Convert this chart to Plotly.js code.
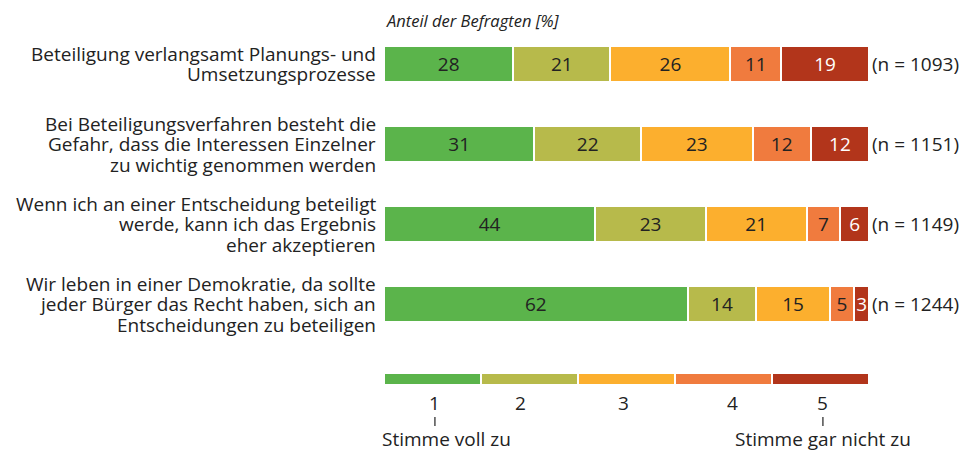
<!DOCTYPE html>
<html><head><meta charset="utf-8">
<script src="https://cdn.plot.ly/plotly-3.0.1.min.js"></script>
<style>body{margin:0;background:#fff}#c{width:964px;height:453px}</style>
</head><body><div id="c"></div>
<script>
const categories = [
  "Beteiligung verlangsamt Planungs- und<br>Umsetzungsprozesse",
  "Bei Beteiligungsverfahren besteht die<br>Gefahr, dass die Interessen Einzelner<br>zu wichtig genommen werden",
  "Wenn ich an einer Entscheidung beteiligt<br>werde, kann ich das Ergebnis<br>eher akzeptieren",
  "Wir leben in einer Demokratie, da sollte<br>jeder Bürger das Recht haben, sich an<br>Entscheidungen zu beteiligen"
];
const sampleSizes = [1093, 1151, 1149, 1244];
const s1 = [28, 31, 44, 62];
const s2 = [21, 22, 23, 14];
const s3 = [26, 23, 21, 15];
const s4 = [11, 12, 7, 5];
const s5 = [19, 12, 6, 3];
const scaleLabels = ["1", "2", "3", "4", "5"];
const scaleEnds = ["Stimme voll zu", "Stimme gar nicht zu"];
const axisTitle = "Anteil der Befragten [%]";

// layout constants (positions in scale-axis units 0..100)
const scaleLabelPos = [10.5, 28.2, 49.3, 71.8, 90.5];

const series = [s1, s2, s3, s4, s5];
const colors = ["#5bb44b", "#b7ba4b", "#fcaf2e", "#f07b3e", "#b2351b"];
const textColors = ["#222", "#222", "#222", "#222", "#fff"];
const FONT = "Open Sans, sans-serif";
const FS = 19;
const H = 453;

const traces = series.map((vals, i) => ({
  type: "bar", orientation: "h",
  x: vals, y: categories,
  marker: {color: colors[i], line: {color: "#fff", width: 2}},
  text: vals.map(String), textposition: "inside", insidetextanchor: "middle",
  textfont: {family: FONT, size: FS, color: textColors[i]},
  constraintext: "none",
  hoverinfo: "skip", xaxis: "x", yaxis: "y", showlegend: false
}));
// scale bar (legend)
scaleLabels.forEach((lab, i) => {
  traces.push({
    type: "bar", orientation: "h", x: [1], y: ["scale"],
    marker: {color: colors[i], line: {color: "#fff", width: 2}},
    hoverinfo: "skip", xaxis: "x2", yaxis: "y2", showlegend: false
  });
});

const annotations = [];
annotations.push({text: "<i>" + axisTitle + "</i>", xref: "paper", yref: "paper",
  x: 0, y: 1 - 20/H, xanchor: "left", yanchor: "middle", showarrow: false,
  font: {family: FONT, size: 16.5, color: "#222"}});
categories.forEach((c, i) => {
  const lines = c.split("<br>");
  const n = lines.length;
  const spacing = 20.5;
  lines.forEach((ln, j) => {
    annotations.push({text: ln, xref: "paper", yref: "y", x: 0, y: c,
      xanchor: "right", xshift: -7, yanchor: "middle", borderpad: 0,
      yshift: ((n - 1) / 2 - j) * spacing, showarrow: false,
      font: {family: FONT, size: FS, color: "#222"}});
  });
  annotations.push({text: "(n = " + sampleSizes[i] + ")", xref: "x", yref: "y",
    x: 100, y: c, xanchor: "left", xshift: 1, yanchor: "middle", showarrow: false,
    font: {family: FONT, size: FS, color: "#222"}});
});
scaleLabels.forEach((lab, i) => {
  annotations.push({text: lab, xref: "x2", yref: "paper", x: scaleLabelPos[i],
    y: 1 - 403/H, yanchor: "middle", borderpad: 0, showarrow: false,
    font: {family: FONT, size: FS, color: "#222"}});
});
annotations.push({text: scaleEnds[0], xref: "paper", yref: "paper", x: 0, xshift: -3,
  y: 1 - 439/H, xanchor: "left", yanchor: "middle", borderpad: 0, showarrow: false,
  font: {family: FONT, size: FS, color: "#222"}});
annotations.push({text: scaleEnds[1], xref: "x2", yref: "paper", x: scaleLabelPos[4],
  y: 1 - 439/H, xanchor: "center", yanchor: "middle", borderpad: 0, showarrow: false,
  font: {family: FONT, size: FS, color: "#222"}});

const shapes = [0, 4].map((i) => ({
  type: "line", xref: "x2", yref: "paper",
  x0: scaleLabelPos[i], x1: scaleLabelPos[i], y0: 1 - 417/H, y1: 1 - 426/H,
  line: {color: "#222", width: 1.2}
}));

const layout = {
  width: 964, height: H,
  margin: {l: 384, r: 95, t: 0, b: 0},
  paper_bgcolor: "#fff", plot_bgcolor: "#fff",
  barmode: "stack", barnorm: "percent", bargap: 0.55,
  font: {family: FONT, size: FS, color: "#222"},
  xaxis: {range: [0, 100], visible: false, fixedrange: true},
  yaxis: {domain: [1 - 344/H, 1 - 24/H], autorange: "reversed",
    showgrid: false, zeroline: false, showline: false, ticks: "",
    showticklabels: false},
  xaxis2: {range: [0, 100], visible: false, anchor: "y2", fixedrange: true},
  yaxis2: {domain: [1 - 393/H, 1 - 365/H], visible: false, anchor: "x2"},
  annotations: annotations,
  shapes: shapes
};
Plotly.newPlot("c", traces, layout, {displayModeBar: false, staticPlot: true});
</script></body></html>
